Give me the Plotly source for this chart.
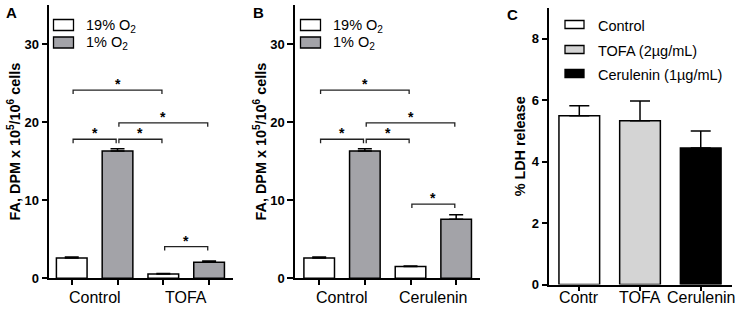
import plotly.graph_objects as go

# ---------------- data ----------------
A_categories = ["Control", "TOFA"]
A_19 = [2.6, 0.55]
A_19_err = [0.12, 0.06]
A_1 = [16.3, 2.05]
A_1_err = [0.3, 0.15]
# brackets: (bar index from, bar index to, height)
A_brackets = [(0, 2, 24.1), (1, 3, 19.9), (0, 1, 17.8), (1, 2, 17.8), (2, 3, 4.05)]

B_categories = ["Control", "Cerulenin"]
B_19 = [2.6, 1.5]
B_19_err = [0.12, 0.08]
B_1 = [16.3, 7.55]
B_1_err = [0.3, 0.6]
B_brackets = [(0, 2, 24.1), (1, 3, 19.9), (0, 1, 17.8), (1, 2, 17.8), (2, 3, 9.5)]

series_names = ["19% O<sub>2</sub>", "1% O<sub>2</sub>"]

C_categories = ["Contr", "TOFA", "Cerulenin"]
C_names = ["Control", "TOFA (2\u00b5g/mL)", "Cerulenin (1\u00b5g/mL)"]
C_vals = [5.5, 5.33, 4.45]
C_err = [0.32, 0.65, 0.55]

# ---------------- style ----------------
FONT = "Arial, 'Liberation Sans', sans-serif"
WHITE = "#ffffff"
GRAY = "#a3a3a8"
LGRAY = "#d4d4d4"
BLACK = "#000000"
LW = 1.5
W = 743
REF_H = 313          # height of the target picture
H = 321              # page height that maps onto the 313-px picture
S = H / REF_H        # page px per picture px (vertical)


def py(p):
    """picture row from top -> paper fraction"""
    return 1 - p / REF_H


fig = go.Figure()

def add_fa_panel(cats, v19, e19, v1, e1, xa, ya):
    for name, vals, errs, col in [(series_names[0], v19, e19, WHITE),
                                  (series_names[1], v1, e1, GRAY)]:
        fig.add_trace(go.Bar(
            x=list(range(len(cats))), y=vals, name=name,
            marker=dict(color=col, line=dict(color=BLACK, width=LW)),
            error_y=dict(type="data", array=errs, arrayminus=[0] * len(errs),
                         symmetric=False, color=BLACK, thickness=LW, width=7),
            xaxis=xa, yaxis=ya, showlegend=False))

add_fa_panel(A_categories, A_19, A_19_err, A_1, A_1_err, "x", "y")
add_fa_panel(B_categories, B_19, B_19_err, B_1, B_1_err, "x2", "y2")

C_colors = [WHITE, LGRAY, BLACK]
for i, (nm, v, e, c) in enumerate(zip(C_names, C_vals, C_err, C_colors)):
    fig.add_trace(go.Bar(
        x=[i], y=[v], name=nm, offsetgroup="c",
        marker=dict(color=c, line=dict(color=BLACK, width=LW)),
        error_y=dict(type="data", array=[e], arrayminus=[0], symmetric=False,
                     color=BLACK, thickness=LW, width=10),
        xaxis="x3", yaxis="y3", showlegend=False))

def bar_x(i):
    return i // 2 + (-0.25 if i % 2 == 0 else 0.25)

shapes = []
annotations = []

def add_brackets(brs, xr, yr):
    drop = 0.5
    inset = 0.015
    for a, b, h in brs:
        x0 = bar_x(a) + inset
        x1 = bar_x(b) - inset
        shapes.append(dict(type="path", xref=xr, yref=yr,
                           path="M %f,%f L %f,%f L %f,%f L %f,%f" % (x0, h - drop, x0, h, x1, h, x1, h - drop),
                           line=dict(color="#222222", width=1.3)))
        annotations.append(dict(x=(x0 + x1) / 2, y=h, xref=xr, yref=yr, text="*",
                                showarrow=False, yanchor="bottom", yshift=-4,
                                font=dict(family=FONT, size=14, color=BLACK, weight="bold")))

add_brackets(A_brackets, "x", "y")
add_brackets(B_brackets, "x2", "y2")

catfont = dict(family=FONT, size=16, color=BLACK)

# category labels centred under each pair of bars (A, B) and under each bar (C)
for cats, xs, xr, yr, gap in [(A_categories, [0, 1], "x", "y", 19.2),
                              (B_categories, [0, 1], "x2", "y2", 19.2),
                              (C_categories, [0, 1, 2], "x3", "y3", 13.0)]:
    for xv, c in zip(xs, cats):
        annotations.append(dict(x=xv, y=0, xref=xr, yref=yr, text=c, showarrow=False,
                                xanchor="center", yanchor="middle", yshift=-gap * S, font=catfont))

# panel letters
for txt, xp, yp in [("A", 11, 12.5), ("B", 258, 12.5), ("C", 512, 14)]:
    annotations.append(dict(text=txt, x=xp / W, y=py(yp), xref="paper", yref="paper",
                            showarrow=False, xanchor="center", yanchor="middle",
                            font=dict(family=FONT, size=15, color=BLACK, weight="bold")))

# legends (drawn as boxes + text)
legfont = dict(family=FONT, size=14.5, color=BLACK)

def add_legend(names, colors, bx0, bx1, rows, bh, tx, tshift):
    for nm, col, cy in zip(names, colors, rows):
        shapes.append(dict(type="rect", xref="paper", yref="paper",
                           x0=bx0 / W, x1=bx1 / W, y0=py(cy + bh / 2), y1=py(cy - bh / 2),
                           fillcolor=col, line=dict(color=BLACK, width=1.3)))
        annotations.append(dict(text=nm, x=tx / W, y=py(cy), xref="paper", yref="paper",
                                showarrow=False, xanchor="left", yanchor="middle",
                                yshift=tshift, font=legfont))

add_legend(series_names, [WHITE, GRAY], 53.5, 73.5, [25.0, 42.5], 11, 84, -1)
add_legend(series_names, [WHITE, GRAY], 300.5, 320.5, [25.0, 42.5], 11, 331, -1)
add_legend(C_names, C_colors, 565, 584, [24.5, 49.5, 73.5], 8, 596, -1.5)

tickfont = dict(family=FONT, size=13, color=BLACK, weight="bold")
titlefont = dict(family=FONT, size=14.4, color=BLACK, weight="bold")

def xaxis_fa(dom, rng, cats, anchor):
    return dict(domain=dom, range=rng, anchor=anchor, showline=True, linecolor=BLACK, linewidth=LW,
                showgrid=False, zeroline=False, tickmode="array",
                tickvals=[bar_x(i) for i in range(2 * len(cats))], showticklabels=False,
                ticks="outside", ticklen=5, tickwidth=LW, tickcolor=BLACK)

def yaxis_fa(dom, anchor):
    return dict(domain=dom, range=[0, 35], anchor=anchor, showline=True, linecolor=BLACK,
                linewidth=LW, showgrid=False, zeroline=False, tickmode="array",
                tickvals=[0, 10, 20, 30], ticks="outside", ticklen=6, tickwidth=LW,
                tickcolor=BLACK, tickfont=tickfont,
                title=dict(text="FA, DPM x 10<sup>5</sup>/10<sup>6</sup> cells", font=titlefont, standoff=0))

fig.update_layout(
    width=W, height=H, autosize=False,
    margin=dict(l=0, r=0, t=0, b=0),
    paper_bgcolor="white", plot_bgcolor="white",
    barmode="group", bargap=0, bargroupgap=0.33,
    font=dict(family=FONT, color=BLACK),
    showlegend=False,
    xaxis=xaxis_fa([49.3 / W, 233 / W], [-0.495, 1.511], A_categories, "y"),
    yaxis=yaxis_fa([py(278.3), py(4.9)], "x"),
    xaxis2=xaxis_fa([295 / W, 480 / W], [-0.515, 1.511], B_categories, "y2"),
    yaxis2=yaxis_fa([py(278.3), py(4.9)], "x2"),
    xaxis3=dict(domain=[549.3 / W, 731.7 / W], range=[-0.494, 2.51], anchor="y3",
                showline=True, linecolor=BLACK, linewidth=LW, showgrid=False, zeroline=False,
                tickmode="array", tickvals=[0, 1, 2], showticklabels=False, ticks="outside",
                ticklen=5, tickwidth=LW, tickcolor=BLACK),
    yaxis3=dict(domain=[py(284.5), py(8.2)], range=[0, 9], anchor="x3", showline=True,
                linecolor=BLACK, linewidth=LW, showgrid=False, zeroline=False, tickmode="array",
                tickvals=[0, 2, 4, 6, 8], ticks="outside", ticklen=6, tickwidth=LW,
                tickcolor=BLACK, tickfont=tickfont,
                title=dict(text="% LDH release", font=titlefont, standoff=3)),
    shapes=shapes, annotations=annotations,
)

fig.write_html("out.html", config={"displayModeBar": False, "responsive": False},
               post_script="document.body.style.margin='0';document.body.style.overflow='hidden';")
